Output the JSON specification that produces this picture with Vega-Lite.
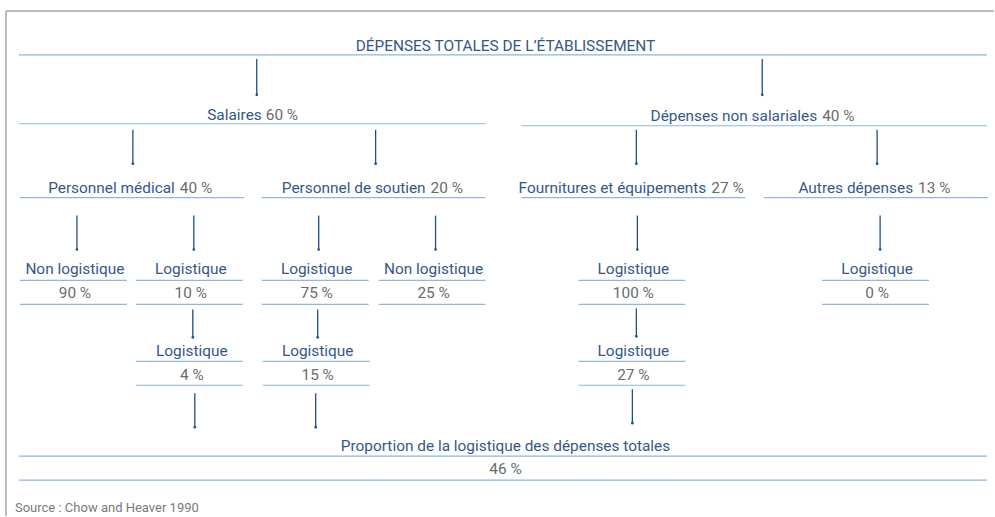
{
  "$schema": "https://vega.github.io/schema/vega-lite/v6.json",
  "width": 995,
  "height": 517,
  "autosize": {"type": "fit", "contains": "padding"},
  "padding": 0,
  "background": "white",
  "config": {"view": {"stroke": null}, "axis": {"disable": true}},
  "datasets": {
    "texts": [
      {"t": "DÉPENSES TOTALES DE L’ÉTABLISSEMENT", "x": 506, "y": 51, "kind": "center"},
      {"t": "Salaires", "x": 262, "y": 120, "kind": "right"},
      {"t": "60 %", "x": 266, "y": 120, "kind": "pctleft"},
      {"t": "Dépenses non salariales", "x": 818, "y": 121, "kind": "right"},
      {"t": "40 %", "x": 823, "y": 121, "kind": "pctleft"},
      {"t": "Personnel médical", "x": 175, "y": 193, "kind": "right"},
      {"t": "40 %", "x": 180, "y": 193, "kind": "pctleft"},
      {"t": "Personnel de soutien", "x": 426, "y": 193, "kind": "right"},
      {"t": "20 %", "x": 431, "y": 193, "kind": "pctleft"},
      {"t": "Fournitures et équipements", "x": 707, "y": 193, "kind": "right"},
      {"t": "27 %", "x": 712, "y": 193, "kind": "pctleft"},
      {"t": "Autres dépenses", "x": 914, "y": 193, "kind": "right"},
      {"t": "13 %", "x": 919, "y": 193, "kind": "pctleft"},
      {"t": "Non logistique", "x": 75, "y": 275, "kind": "center"},
      {"t": "Logistique", "x": 191, "y": 275, "kind": "center"},
      {"t": "Logistique", "x": 317, "y": 275, "kind": "center"},
      {"t": "Non logistique", "x": 434, "y": 275, "kind": "center"},
      {"t": "Logistique", "x": 634, "y": 275, "kind": "center"},
      {"t": "Logistique", "x": 878, "y": 275, "kind": "center"},
      {"t": "90 %", "x": 75, "y": 299, "kind": "pctcenter"},
      {"t": "10 %", "x": 191, "y": 299, "kind": "pctcenter"},
      {"t": "75 %", "x": 317, "y": 299, "kind": "pctcenter"},
      {"t": "25 %", "x": 434, "y": 299, "kind": "pctcenter"},
      {"t": "100 %", "x": 634, "y": 299, "kind": "pctcenter"},
      {"t": "0 %", "x": 878, "y": 299, "kind": "pctcenter"},
      {"t": "Logistique", "x": 192, "y": 357, "kind": "center"},
      {"t": "Logistique", "x": 318, "y": 357, "kind": "center"},
      {"t": "Logistique", "x": 634, "y": 357, "kind": "center"},
      {"t": "4 %", "x": 192, "y": 381, "kind": "pctcenter"},
      {"t": "15 %", "x": 318, "y": 381, "kind": "pctcenter"},
      {"t": "27 %", "x": 634, "y": 381, "kind": "pctcenter"},
      {"t": "Proportion de la logistique des dépenses totales", "x": 506, "y": 452, "kind": "center"},
      {"t": "46 %", "x": 506, "y": 475, "kind": "pctcenter"},
      {"t": "Source : Chow and Heaver 1990", "x": 15, "y": 513, "kind": "source"}
    ],
    "lines": [
      {"x": 19, "x2": 988, "y": 55},
      {"x": 19, "x2": 486, "y": 124},
      {"x": 522, "x2": 988, "y": 126},
      {"x": 20, "x2": 244, "y": 198},
      {"x": 262, "x2": 486, "y": 198},
      {"x": 522, "x2": 746, "y": 198},
      {"x": 765, "x2": 989, "y": 198},
      {"x": 20, "x2": 127, "y": 281},
      {"x": 136, "x2": 243, "y": 281},
      {"x": 262, "x2": 369, "y": 281},
      {"x": 379, "x2": 486, "y": 281},
      {"x": 579, "x2": 686, "y": 281},
      {"x": 823, "x2": 930, "y": 281},
      {"x": 20, "x2": 127, "y": 305},
      {"x": 136, "x2": 243, "y": 305},
      {"x": 262, "x2": 369, "y": 305},
      {"x": 379, "x2": 486, "y": 305},
      {"x": 579, "x2": 686, "y": 305},
      {"x": 823, "x2": 930, "y": 305},
      {"x": 136, "x2": 243, "y": 362},
      {"x": 263, "x2": 370, "y": 362},
      {"x": 579, "x2": 686, "y": 362},
      {"x": 136, "x2": 243, "y": 386},
      {"x": 263, "x2": 370, "y": 386},
      {"x": 579, "x2": 686, "y": 386},
      {"x": 19, "x2": 988, "y": 457},
      {"x": 19, "x2": 988, "y": 481}
    ],
    "arrows": [
      {"x": 257, "y": 59, "y2": 95},
      {"x": 763, "y": 59, "y2": 95},
      {"x": 133, "y": 130, "y2": 164},
      {"x": 376, "y": 130, "y2": 164},
      {"x": 637, "y": 130, "y2": 164},
      {"x": 878, "y": 130, "y2": 164},
      {"x": 77, "y": 216, "y2": 250},
      {"x": 194, "y": 216, "y2": 250},
      {"x": 319, "y": 216, "y2": 250},
      {"x": 436, "y": 216, "y2": 250},
      {"x": 638, "y": 216, "y2": 250},
      {"x": 881, "y": 216, "y2": 250},
      {"x": 193, "y": 310, "y2": 338},
      {"x": 318, "y": 310, "y2": 338},
      {"x": 637, "y": 309, "y2": 337},
      {"x": 195, "y": 394, "y2": 428},
      {"x": 316, "y": 394, "y2": 428},
      {"x": 633, "y": 390, "y2": 424}
    ],
    "frame": [
      {"x": 6, "x2": 995, "y": 11, "y2": 11},
      {"x": 6, "x2": 6, "y": 11, "y2": 517}
    ]
  },
  "data": {"name": "texts"},
  "layer": [
    {
      "data": {"name": "frame"},
      "mark": {"type": "rule", "color": "#a6a6a6", "strokeWidth": 1.5},
      "encoding": {
        "x": {"field": "x", "type": "quantitative", "scale": {"domain": [0, 995], "nice": false, "zero": false}},
        "x2": {"field": "x2"},
        "y": {"field": "y", "type": "quantitative", "scale": {"domain": [517, 0], "nice": false, "zero": false}},
        "y2": {"field": "y2"}
      }
    },
    {
      "data": {"name": "lines"},
      "mark": {"type": "rule", "color": "#8db6e0", "strokeWidth": 1.2},
      "encoding": {
        "x": {"field": "x", "type": "quantitative"},
        "x2": {"field": "x2"},
        "y": {"field": "y", "type": "quantitative"}
      }
    },
    {
      "data": {"name": "arrows"},
      "mark": {"type": "rule", "color": "#1c4f8c", "strokeWidth": 1.3},
      "encoding": {
        "x": {"field": "x", "type": "quantitative"},
        "y": {"field": "y", "type": "quantitative"},
        "y2": {"field": "y2"}
      }
    },
    {
      "data": {"name": "arrows"},
      "mark": {"type": "point", "shape": "circle", "filled": true, "color": "#1c4f8c", "size": 7, "opacity": 1},
      "encoding": {
        "x": {"field": "x", "type": "quantitative"},
        "y": {"field": "y2", "type": "quantitative"}
      }
    },
    {
      "transform": [{"filter": "datum.kind === 'center'"}],
      "mark": {"type": "text", "align": "center", "baseline": "alphabetic", "font": "Roboto", "fontSize": 15.4, "color": "#34578c"},
      "encoding": {
        "x": {"field": "x", "type": "quantitative"},
        "y": {"field": "y", "type": "quantitative"},
        "text": {"field": "t"}
      }
    },
    {
      "transform": [{"filter": "datum.kind === 'right'"}],
      "mark": {"type": "text", "align": "right", "baseline": "alphabetic", "font": "Roboto", "fontSize": 15.4, "color": "#34578c"},
      "encoding": {
        "x": {"field": "x", "type": "quantitative"},
        "y": {"field": "y", "type": "quantitative"},
        "text": {"field": "t"}
      }
    },
    {
      "transform": [{"filter": "datum.kind === 'pctleft'"}],
      "mark": {"type": "text", "align": "left", "baseline": "alphabetic", "font": "Roboto", "fontSize": 15.4, "color": "#6b6b6b"},
      "encoding": {
        "x": {"field": "x", "type": "quantitative"},
        "y": {"field": "y", "type": "quantitative"},
        "text": {"field": "t"}
      }
    },
    {
      "transform": [{"filter": "datum.kind === 'pctcenter'"}],
      "mark": {"type": "text", "align": "center", "baseline": "alphabetic", "font": "Roboto", "fontSize": 15.4, "color": "#6b6b6b"},
      "encoding": {
        "x": {"field": "x", "type": "quantitative"},
        "y": {"field": "y", "type": "quantitative"},
        "text": {"field": "t"}
      }
    },
    {
      "transform": [{"filter": "datum.kind === 'source'"}],
      "mark": {"type": "text", "align": "left", "baseline": "alphabetic", "font": "Roboto", "fontSize": 13, "color": "#7a7a7a"},
      "encoding": {
        "x": {"field": "x", "type": "quantitative"},
        "y": {"field": "y", "type": "quantitative"},
        "text": {"field": "t"}
      }
    }
  ]
}
